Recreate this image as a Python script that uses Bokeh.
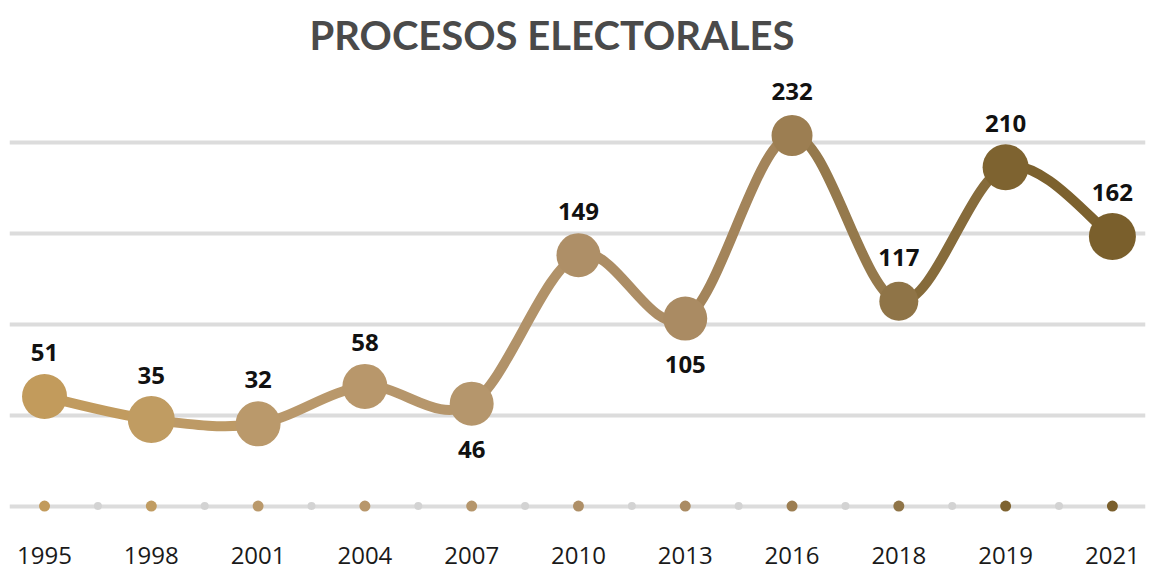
from bokeh.plotting import figure
from bokeh.models import FixedTicker, ColumnDataSource, Range1d
from bokeh.embed import file_html
from bokeh.resources import INLINE
from bokeh.core.properties import value

# ---- data ----
years = ["1995", "1998", "2001", "2004", "2007", "2010", "2013", "2016", "2018", "2019", "2021"]
procesos = [51, 35, 32, 58, 46, 149, 105, 232, 117, 210, 162]

# ---- styles ----
point_colors = ["#C29B5C", "#C09C62", "#BA996B", "#B8976B", "#B5966C", "#AE8F67",
                "#AA8B63", "#9C7E52", "#8F7447", "#7E6330", "#7A5F2C"]
point_sizes = [45, 47, 45, 45, 44, 44, 44, 41, 39, 46, 47]
label_side = ["above", "above", "above", "above", "below", "above",
              "below", "above", "above", "above", "above"]
grid_ticks = [-25, 38, 101, 164, 227]
baseline = grid_ticks[0]

n = len(years)
xs = list(range(n))

p = figure(frame_width=1136, frame_height=455,
           x_range=Range1d(-0.328, 10.31), y_range=Range1d(-38.5, 277.1),
           output_backend="svg", toolbar_location=None,
           min_border_left=9, min_border_right=5, min_border_top=70, min_border_bottom=46,
           title="PROCESOS ELECTORALES")
p.outline_line_color = None
p.background_fill_color = "white"
p.border_fill_color = "white"

p.title.text_font = "Lato"
p.title.text_font_size = "40px"
p.title.text_font_style = "bold"
p.title.text_color = "#4a4a4a"
p.title.vertical_align = "top"
p.title.align = "left"
p.title.offset = 300
p.title.standoff = 20

p.yaxis.visible = False
p.xgrid.visible = False
p.ygrid.ticker = FixedTicker(ticks=grid_ticks)
p.ygrid.grid_line_color = "#dcdcdc"
p.ygrid.grid_line_width = 4

p.xaxis.ticker = FixedTicker(ticks=xs)
p.xaxis.major_label_overrides = {i: y for i, y in enumerate(years)}
p.xaxis.axis_line_color = None
p.xaxis.major_tick_line_color = None
p.xaxis.minor_tick_line_color = None
p.xaxis.major_tick_out = 0
p.xaxis.major_tick_in = 0
p.xaxis.major_label_standoff = 21
p.xaxis.major_label_text_font = "Open Sans"
p.xaxis.major_label_text_font_size = "24px"
p.xaxis.major_label_text_color = "#1a1a1a"

# ---- smooth curve (Catmull-Rom -> cubic Bezier) ----
def blend(c1, c2):
    a = [int(c1[i:i + 2], 16) for i in (1, 3, 5)]
    b = [int(c2[i:i + 2], 16) for i in (1, 3, 5)]
    return "#%02x%02x%02x" % tuple((u + v) // 2 for u, v in zip(a, b))

seg = dict(x0=[], y0=[], x1=[], y1=[], cx0=[], cy0=[], cx1=[], cy1=[], color=[])
for i in range(n - 1):
    i0, i3 = max(i - 1, 0), min(i + 2, n - 1)
    seg["x0"].append(xs[i]); seg["y0"].append(procesos[i])
    seg["x1"].append(xs[i + 1]); seg["y1"].append(procesos[i + 1])
    seg["cx0"].append(xs[i] + (xs[i + 1] - xs[i0]) / 6)
    seg["cy0"].append(procesos[i] + (procesos[i + 1] - procesos[i0]) / 6)
    seg["cx1"].append(xs[i + 1] - (xs[i3] - xs[i]) / 6)
    seg["cy1"].append(procesos[i + 1] - (procesos[i3] - procesos[i]) / 6)
    seg["color"].append(blend(point_colors[i], point_colors[i + 1]))

p.bezier(x0="x0", y0="y0", x1="x1", y1="y1", cx0="cx0", cy0="cy0", cx1="cx1", cy1="cy1",
         line_color="color", line_width=10, line_cap="round", source=ColumnDataSource(seg))

src = ColumnDataSource(dict(
    x=xs, y=procesos, label=[str(v) for v in procesos],
    color=point_colors, size=point_sizes,
    dy=[-44 if s == "above" else 46 for s in label_side],
    base=[baseline] * n,
))

p.scatter("x", "y", size="size", fill_color="color", line_color=None, source=src)
p.text("x", "y", text="label", y_offset="dy", text_align="center", text_baseline="middle",
       text_font=value("Open Sans"), text_font_style="bold", text_font_size="24px",
       text_color="#111111", source=src)

# baseline dots
mids = [x + 0.5 for x in xs[:-1]]
p.scatter(mids, [baseline] * len(mids), size=8, fill_color="#d3d3d3", line_color=None)
p.scatter("x", "base", size=11, fill_color="color", line_color=None, source=src)

open("out.html", "w").write(file_html(p, INLINE))
